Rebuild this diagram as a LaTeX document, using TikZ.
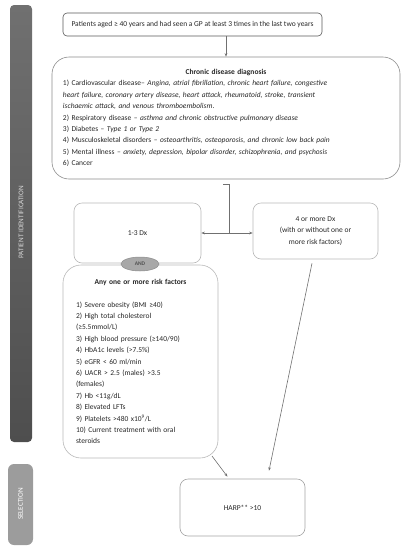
\documentclass[tikz,border=0pt]{standalone}
\usepackage{fontspec}
\setmainfont{Carlito}
\usepackage{tikz}
\usetikzlibrary{arrows.meta,shapes.geometric,calc}
\definecolor{textgray}{HTML}{262626}
\definecolor{linegray}{HTML}{707070}
\definecolor{lightedge}{HTML}{B8B8B8}
\definecolor{midedge}{HTML}{8C8C8C}
\definecolor{darkedge}{HTML}{595959}
\definecolor{bartop}{HTML}{707070}
\definecolor{barbottom}{HTML}{4E4E4E}
\definecolor{selgray}{HTML}{9C9C9C}
\definecolor{andfill}{HTML}{A8A8A8}
\newcommand{\txt}{\fontsize{7.5}{11.4}\selectfont}

\begin{document}
\begin{tikzpicture}[x=1pt,y=-1pt,
		every node/.style={font=\txt, text=textgray},
		flowbox/.style={draw=lightedge, line width=0.6pt, rounded corners=8pt, align=center, inner sep=0pt},
		link/.style={draw=linegray, line width=0.6pt, -{Stealth[length=3.5pt,width=2.6pt]}},
		plainline/.style={draw=linegray, line width=0.6pt},
		barlabel/.style={rotate=90, font=\fontsize{7.2}{9}\selectfont}
	]
	\useasboundingbox (0,0) rectangle (407,550);
	% side bars
	\shade[top color=bartop, bottom color=barbottom, rounded corners=4pt] (10,5) rectangle (32,442);
	\node[barlabel, text=black!15] (patlabel) at (21,222) {PATIENT IDENTIFICATION};
	\fill[selgray, rounded corners=6pt] (8,464) rectangle (33,545);
	\node[barlabel, text=white] (sellabel) at (20.5,504) {SELECTION};

	% boxes
	\node[flowbox, draw=darkedge, rounded corners=4pt, minimum width=259pt, minimum height=23pt] (patients) at (192.5,24.5)
		{Patients aged ≥ 40 years and had seen a GP at least 3 times in the last two years};
	\node[flowbox, draw=midedge, rounded corners=17pt, minimum height=122pt, inner xsep=11pt, text width=326pt, align=left] (chronic) at (226,118)
		{{\centering\textbf{Chronic disease diagnosis}\par}
		1) Cardiovascular disease– \textit{Angina, atrial fibrillation, chronic heart failure, congestive}\\
		\textit{heart failure, coronary artery disease, heart attack, rheumatoid, stroke, transient}\\
		\textit{ischaemic attack, and venous thromboembolism}.\\
		2) Respiratory disease – \textit{asthma and chronic obstructive pulmonary disease}\\
		3) Diabetes – \textit{Type 1 or Type 2}\\
		4) Musculoskeletal disorders – \textit{osteoarthritis, osteoporosis, and chronic low back pain}\\
		5) Mental illness – \textit{anxiety, depression, bipolar disorder, schizophrenia, and psychosis}\\
		6) Cancer};
	\node[flowbox, minimum width=127pt, minimum height=60pt] (dxlow) at (137.5,233) {1-3 Dx};
	\node[flowbox, minimum width=125pt, minimum height=56pt] (dxhigh) at (315.5,231)
		{4 or more Dx\\(with or without one or\\more risk factors)};
	\node[flowbox, rounded corners=18pt, minimum height=193pt, inner xsep=13pt, text width=129pt, align=left] (risk) at (140.5,361.5)
		{{\centering\textbf{Any one or more risk factors}\par}
		\mbox{}\\
		1) Severe obesity (BMI ≥40)\\
		2) High total cholesterol\\
		(≥5.5mmol/L)\\
		3) High blood pressure (≥140/90)\\
		4) HbA1c levels (>7.5\%)\\
		5) eGFR < 60 ml/min\\
		6) UACR > 2.5 (males) >3.5\\
		(females)\\
		7) Hb <11g/dL\\
		8) Elevated LFTs\\
		9) Platelets >480 x10\textsuperscript{9}/L\\
		10) Current treatment with oral\\
		steroids};
	\node[ellipse, draw=midedge, fill=andfill, line width=0.5pt, minimum width=38pt, minimum height=14pt, inner sep=0pt, font=\fontsize{5.5}{6}\selectfont\bfseries, text=textgray!80] (and) at (140,264) {AND};
	\node[flowbox, draw=midedge!80, minimum width=125pt, minimum height=57pt] (harp) at (242.5,507.5) {HARP** >10};

	% connectors
	\coordinate (tick) at (223,184);
	\coordinate (split) at (229,233);
	\coordinate (riskout) at (212,456);
	\path (patients.south -| chronic.north) edge[link] (chronic.north);
	\path[plainline] (tick) -| (split);
	\path (split) edge[link] (dxlow.east)
		(split) edge[link] (split -| dxhigh.west)
		(riskout) edge[link] ($(harp.north)+(-15,-2)$)
		($(dxhigh.south)+(-3.5,4)$) edge[link] ($(harp.north)+(26.5,-8)$);
\end{tikzpicture}
\end{document}
